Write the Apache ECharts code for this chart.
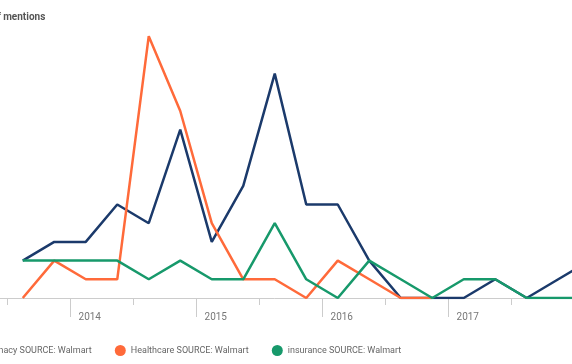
<!DOCTYPE html>
<html>
<head>
<meta charset="utf-8">
<script src="https://cdn.jsdelivr.net/npm/echarts@6/dist/echarts.min.js"></script>
<style>
  html, body { margin: 0; padding: 0; width: 572px; height: 364px; overflow: hidden; background: #fff; }
  #chart { position: absolute; left: -100px; top: 0; width: 772px; height: 364px; }
</style>
</head>
<body>
<div id="chart"></div>
<script>
// Quarterly categories
const categories = [
  '2013 Q1','2013 Q2','2013 Q3','2013 Q4',
  '2014 Q1','2014 Q2','2014 Q3','2014 Q4',
  '2015 Q1','2015 Q2','2015 Q3','2015 Q4',
  '2016 Q1','2016 Q2','2016 Q3','2016 Q4',
  '2017 Q1','2017 Q2','2017 Q3','2017 Q4',
  '2018 Q1'
];
const pharmacy   = [null, null, 2, 3, 3, 5, 4, 9, 3, 6, 12, 5, 5, 2, 0, 0, 0, 1, 0, 1, 2];
const healthcare = [null, null, 0, 2, 1, 1, 14, 10, 4, 1, 1, 0, 2, 1, 0, 0, null, null, null, null, null];
const insurance  = [null, null, 2, 2, 2, 2, 1, 2, 1, 1, 4, 1, 0, 2, 1, 0, 1, 1, 0, 0, 0];
const seriesNames = ['Pharmacy SOURCE: Walmart', 'Healthcare SOURCE: Walmart', 'insurance SOURCE: Walmart'];
const seriesColors = ['#1b3a6b', '#ff6a3a', '#17996b'];
const yAxisTitle = 'Number of mentions';

const chart = echarts.init(document.getElementById('chart'));
const isYearStart = (v) => /Q1$/.test(v);
const font = 'Roboto, "Noto Sans", sans-serif';

chart.setOption({
  animation: false,
  color: seriesColors,
  title: {
    text: yAxisTitle,
    left: 48,
    top: 7,
    textStyle: { fontFamily: font, fontSize: 10, fontWeight: 'bold', color: '#555' }
  },
  legend: {
    data: seriesNames,
    left: 56,
    top: 340,
    icon: 'circle',
    itemWidth: 11,
    itemHeight: 11,
    itemGap: 23,
    textStyle: { fontFamily: font, fontSize: 9, color: '#666' }
  },
  grid: { left: 44, right: 66.5, top: 17.5, bottom: 66, containLabel: false },
  xAxis: [
    {
      type: 'category',
      data: categories,
      boundaryGap: true,
      axisLine: { show: true, lineStyle: { color: '#cccccc', width: 1 } },
      axisTick: { show: true, length: 7, lineStyle: { color: '#cccccc' } },
      axisLabel: { show: false }
    },
    {
      type: 'category',
      data: categories,
      boundaryGap: true,
      position: 'bottom',
      axisLine: { show: false },
      axisTick: { show: true, length: 19, interval: (i, v) => isYearStart(v), lineStyle: { color: '#cccccc' } },
      axisLabel: {
        show: true,
        interval: (i, v) => isYearStart(v),
        formatter: (v) => v.slice(0, 4),
        margin: 14,
        padding: [0, 0, 0, 8],
        fontFamily: font,
        fontSize: 10,
        color: '#777'
      }
    }
  ],
  yAxis: {
    type: 'value',
    min: 0,
    max: 15,
    axisLine: { show: false },
    axisTick: { show: false },
    axisLabel: { show: false },
    splitLine: { show: false }
  },
  series: [pharmacy, healthcare, insurance].map((d, i) => ({
    name: seriesNames[i],
    type: 'line',
    data: d,
    showSymbol: false,
    symbol: 'none',
    lineStyle: { width: 2.5, color: seriesColors[i] },
    itemStyle: { color: seriesColors[i] }
  }))
});
</script>
</body>
</html>
